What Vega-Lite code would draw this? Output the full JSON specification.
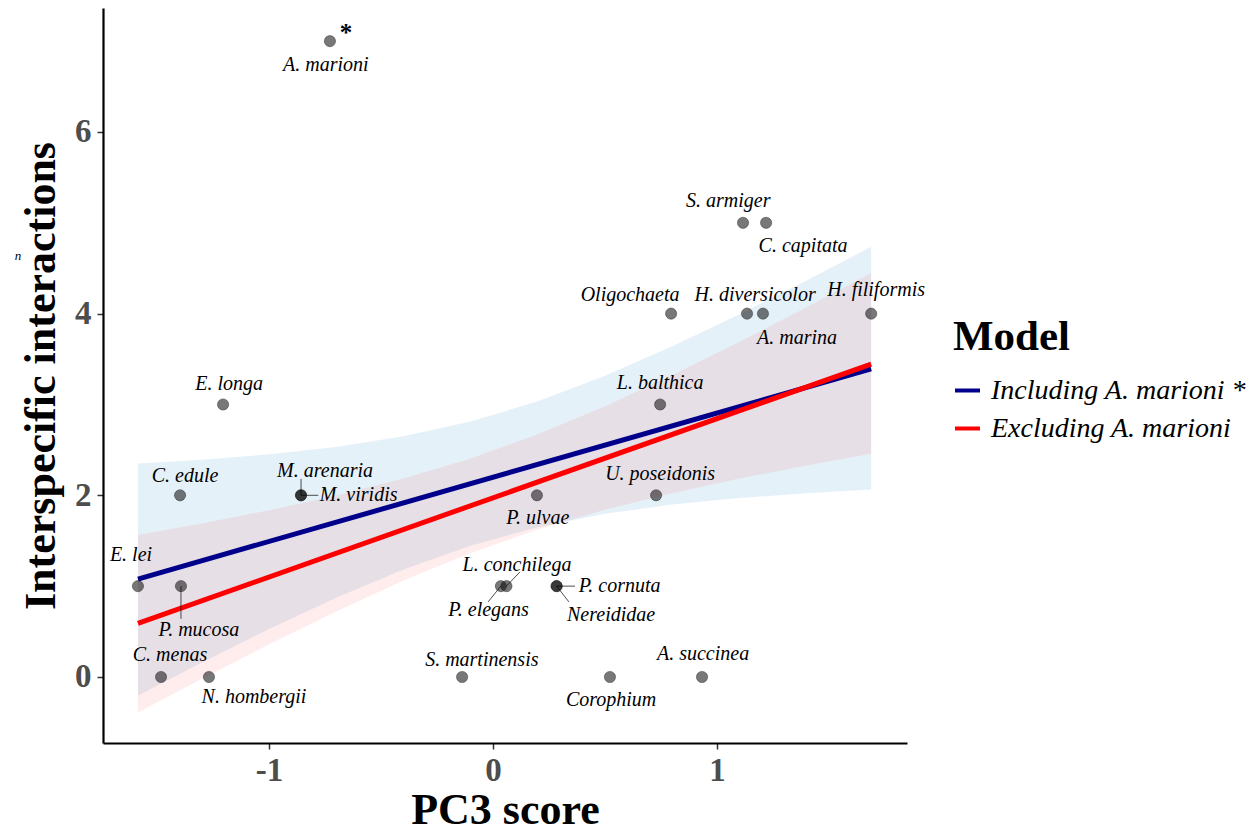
{
  "$schema": "https://vega.github.io/schema/vega-lite/v6.json",
  "width": 804,
  "height": 735,
  "autosize": {"type": "none"},
  "padding": {"left": 103, "top": 8, "right": 353, "bottom": 87},
  "background": "white",
  "config": {
    "font": "Liberation Serif",
    "view": {"stroke": null},
    "axis": {
      "grid": false,
      "domainColor": "#000000",
      "domainWidth": 2.2,
      "tickColor": "#333333",
      "tickWidth": 1.5,
      "tickSize": 6,
      "labelFont": "Liberation Serif",
      "labelFontSize": 33,
      "labelFontWeight": "bold",
      "labelColor": "#4D4D4D",
      "titleFont": "Liberation Serif",
      "titleFontSize": 44,
      "titleFontWeight": "bold",
      "titleColor": "#000000"
    },
    "legend": {
      "titleFont": "Liberation Serif",
      "titleFontSize": 43,
      "titleFontWeight": "bold",
      "titleColor": "#000000",
      "labelFont": "Liberation Serif",
      "labelFontSize": 28,
      "labelFontStyle": "italic",
      "labelColor": "#000000",
      "labelLimit": 400
    }
  },
  "datasets": {
    "species": [
      {"species": "A. marioni", "x": -0.728, "y": 7, "lx": -0.746, "ly": 6.74},
      {"species": "S. armiger", "x": 1.116, "y": 5, "lx": 1.05, "ly": 5.24},
      {"species": "C. capitata", "x": 1.219, "y": 5, "lx": 1.384, "ly": 4.74},
      {"species": "Oligochaeta", "x": 0.795, "y": 4, "lx": 0.612, "ly": 4.21},
      {"species": "H. diversicolor", "x": 1.134, "y": 4, "lx": 1.17, "ly": 4.21},
      {"species": "A. marina", "x": 1.205, "y": 4, "lx": 1.357, "ly": 3.73},
      {"species": "H. filiformis", "x": 1.688, "y": 4, "lx": 1.71, "ly": 4.26},
      {"species": "E. longa", "x": -1.205, "y": 3, "lx": -1.178, "ly": 3.23},
      {"species": "L. balthica", "x": 0.746, "y": 3, "lx": 0.746, "ly": 3.24},
      {"species": "C. edule", "x": -1.397, "y": 2, "lx": -1.375, "ly": 2.21},
      {"species": "M. arenaria", "x": -0.857, "y": 2, "lx": -0.75, "ly": 2.27, "sx": -0.857, "sy": 2.18},
      {"species": "M. viridis", "x": -0.857, "y": 2, "lx": -0.6, "ly": 2.0, "sx": -0.78, "sy": 2.0},
      {"species": "P. ulvae", "x": 0.196, "y": 2, "lx": 0.2, "ly": 1.75},
      {"species": "U. poseidonis", "x": 0.728, "y": 2, "lx": 0.746, "ly": 2.24},
      {"species": "E. lei", "x": -1.585, "y": 1, "lx": -1.616, "ly": 1.34},
      {"species": "P. mucosa", "x": -1.393, "y": 1, "lx": -1.313, "ly": 0.52, "sx": -1.393, "sy": 0.64},
      {"species": "L. conchilega", "x": 0.06, "y": 1, "lx": 0.107, "ly": 1.23, "sx": 0.12, "sy": 1.156},
      {"species": "P. elegans", "x": 0.035, "y": 1, "lx": -0.02, "ly": 0.74, "sx": -0.022, "sy": 0.826},
      {"species": "P. cornuta", "x": 0.284, "y": 1, "lx": 0.565, "ly": 1.0, "sx": 0.366, "sy": 1.0},
      {"species": "Nereididae", "x": 0.284, "y": 1, "lx": 0.527, "ly": 0.68, "sx": 0.339, "sy": 0.826},
      {"species": "C. menas", "x": -1.482, "y": 0, "lx": -1.442, "ly": 0.24},
      {"species": "N. hombergii", "x": -1.268, "y": 0, "lx": -1.067, "ly": -0.22},
      {"species": "S. martinensis", "x": -0.138, "y": 0, "lx": -0.05, "ly": 0.19},
      {"species": "Corophium", "x": 0.522, "y": 0, "lx": 0.527, "ly": -0.25},
      {"species": "A. succinea", "x": 0.933, "y": 0, "lx": 0.9375, "ly": 0.25}
    ],
    "bands": [
      {"model": "inc", "x": -1.585, "lo": -0.203, "hi": 2.349},
      {"model": "inc", "x": -1.3, "lo": 0.16, "hi": 2.392},
      {"model": "inc", "x": -1.0, "lo": 0.527, "hi": 2.451},
      {"model": "inc", "x": -0.7, "lo": 0.872, "hi": 2.532},
      {"model": "inc", "x": -0.4, "lo": 1.183, "hi": 2.649},
      {"model": "inc", "x": -0.1, "lo": 1.446, "hi": 2.812},
      {"model": "inc", "x": 0.2, "lo": 1.649, "hi": 3.035},
      {"model": "inc", "x": 0.5, "lo": 1.796, "hi": 3.316},
      {"model": "inc", "x": 0.8, "lo": 1.898, "hi": 3.64},
      {"model": "inc", "x": 1.1, "lo": 1.97, "hi": 3.994},
      {"model": "inc", "x": 1.4, "lo": 2.024, "hi": 4.366},
      {"model": "inc", "x": 1.688, "lo": 2.064, "hi": 4.736},
      {"model": "exc", "x": -1.585, "lo": -0.392, "hi": 1.562},
      {"model": "exc", "x": -1.3, "lo": -0.021, "hi": 1.689},
      {"model": "exc", "x": -1.0, "lo": 0.359, "hi": 1.835},
      {"model": "exc", "x": -0.7, "lo": 0.722, "hi": 1.998},
      {"model": "exc", "x": -0.4, "lo": 1.061, "hi": 2.185},
      {"model": "exc", "x": -0.1, "lo": 1.364, "hi": 2.406},
      {"model": "exc", "x": 0.2, "lo": 1.624, "hi": 2.672},
      {"model": "exc", "x": 0.5, "lo": 1.841, "hi": 2.981},
      {"model": "exc", "x": 0.8, "lo": 2.024, "hi": 3.324},
      {"model": "exc", "x": 1.1, "lo": 2.184, "hi": 3.69},
      {"model": "exc", "x": 1.4, "lo": 2.328, "hi": 4.07},
      {"model": "exc", "x": 1.688, "lo": 2.457, "hi": 4.447}
    ]
  },
  "layer": [
    {
      "data": {"name": "bands"},
      "transform": [{"filter": "datum.model === 'inc'"}],
      "mark": {"type": "area", "color": "#5fa8d8", "opacity": 0.16},
      "encoding": {
        "x": {
          "field": "x", "type": "quantitative",
          "scale": {"domain": [-1.741, 1.848], "nice": false, "zero": false},
          "axis": {
            "title": "PC3 score",
            "values": [-1, 0, 1],
            "labelExpr": "'' + datum.value",
            "labelPadding": 5,
            "titleBaseline": "alphabetic",
            "titleY": 80
          }
        },
        "y": {
          "field": "lo", "type": "quantitative",
          "scale": {"domain": [-0.727, 7.365], "nice": false, "zero": false},
          "axis": {
            "title": "Interspecific interactions",
            "values": [0, 2, 4, 6],
            "labelExpr": "'' + datum.value",
            "labelPadding": 6,
            "titleBaseline": "alphabetic",
            "titleX": -49
          }
        },
        "y2": {"field": "hi"}
      }
    },
    {
      "data": {"name": "bands"},
      "transform": [{"filter": "datum.model === 'exc'"}],
      "mark": {"type": "area", "color": "#ff5050", "opacity": 0.11},
      "encoding": {
        "x": {"field": "x", "type": "quantitative"},
        "y": {"field": "lo", "type": "quantitative"},
        "y2": {"field": "hi"}
      }
    },
    {
      "data": {"name": "species"},
      "transform": [{"regression": "y", "on": "x"}],
      "mark": {"type": "line", "strokeWidth": 5},
      "encoding": {
        "x": {"field": "x", "type": "quantitative"},
        "y": {"field": "y", "type": "quantitative"},
        "color": {
          "datum": "Including A. marioni *",
          "type": "nominal",
          "scale": {
            "domain": ["Including A. marioni *", "Excluding A. marioni"],
            "range": ["#00008B", "#FF0000"]
          },
          "legend": {
            "title": "Model",
            "orient": "none",
            "legendX": 850,
            "legendY": 308,
            "padding": 0,
            "titlePadding": 17,
            "rowPadding": 9,
            "symbolType": "stroke",
            "symbolSize": 625,
            "symbolStrokeWidth": 4,
            "labelOffset": 9
          }
        }
      }
    },
    {
      "data": {"name": "species"},
      "transform": [
        {"filter": "datum.species !== 'A. marioni'"},
        {"regression": "y", "on": "x"}
      ],
      "mark": {"type": "line", "strokeWidth": 5},
      "encoding": {
        "x": {"field": "x", "type": "quantitative"},
        "y": {"field": "y", "type": "quantitative"},
        "color": {"datum": "Excluding A. marioni", "type": "nominal"}
      }
    },
    {
      "data": {"name": "species"},
      "transform": [{"filter": "isValid(datum.sx)"}],
      "mark": {"type": "rule", "color": "#222222", "strokeWidth": 0.8},
      "encoding": {
        "x": {"field": "x", "type": "quantitative"},
        "y": {"field": "y", "type": "quantitative"},
        "x2": {"field": "sx"},
        "y2": {"field": "sy"}
      }
    },
    {
      "data": {"name": "species"},
      "mark": {
        "type": "point", "filled": true, "size": 125,
        "fill": "#000000", "fillOpacity": 0.53,
        "stroke": "#222222", "strokeOpacity": 0.45, "strokeWidth": 1
      },
      "encoding": {
        "x": {"field": "x", "type": "quantitative"},
        "y": {"field": "y", "type": "quantitative"}
      }
    },
    {
      "data": {"name": "species"},
      "mark": {
        "type": "text", "font": "Liberation Serif", "fontSize": 20,
        "fontStyle": "italic", "color": "#000000",
        "align": "center", "baseline": "middle"
      },
      "encoding": {
        "x": {"field": "lx", "type": "quantitative"},
        "y": {"field": "ly", "type": "quantitative"},
        "text": {"field": "species"}
      }
    },
    {
      "data": {"name": "species"},
      "transform": [{"filter": "datum.species === 'A. marioni'"}],
      "mark": {
        "type": "text", "font": "Liberation Serif", "fontSize": 25,
        "fontWeight": "bold", "color": "#000000",
        "align": "center", "baseline": "alphabetic", "dx": 16, "dy": 0
      },
      "encoding": {
        "x": {"field": "x", "type": "quantitative"},
        "y": {"field": "y", "type": "quantitative"},
        "text": {"value": "*"}
      }
    },
    {
      "data": {"values": [{}]},
      "mark": {
        "type": "text", "font": "Liberation Serif", "fontSize": 13,
        "fontStyle": "italic", "color": "#000000",
        "align": "center", "baseline": "middle"
      },
      "encoding": {
        "x": {"datum": -2.12, "type": "quantitative"},
        "y": {"datum": 4.63, "type": "quantitative"},
        "text": {"value": "n"}
      }
    }
  ]
}
